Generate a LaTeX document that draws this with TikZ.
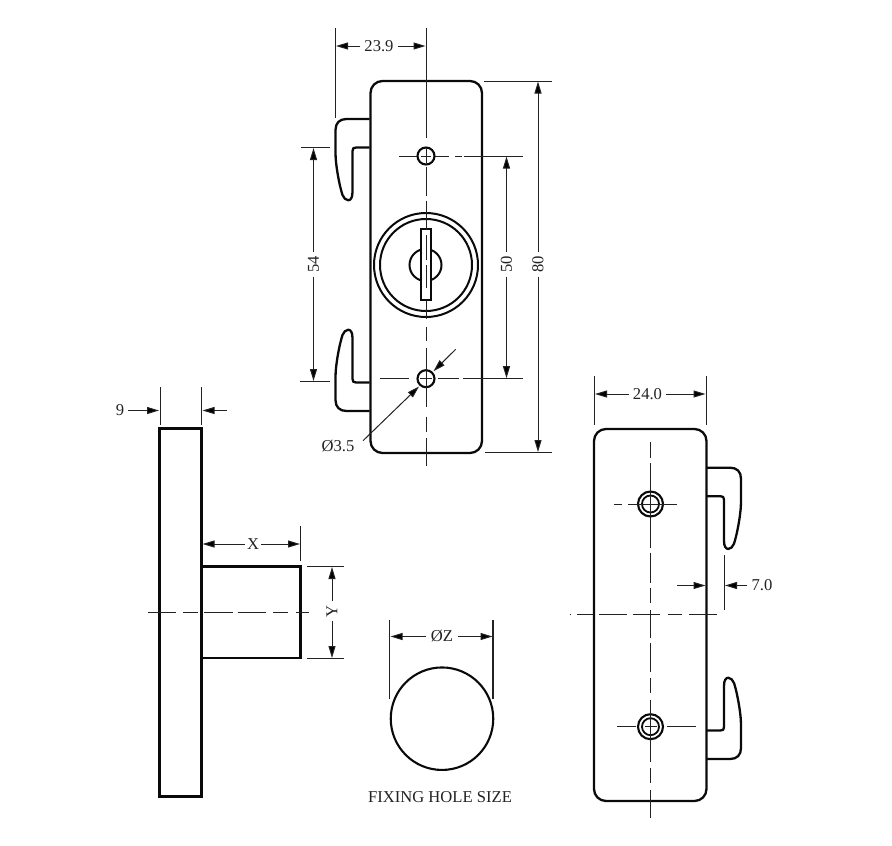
\documentclass[tikz,border=0pt]{standalone}
\usepackage{fontspec}
\setmainfont{Liberation Serif}
\usetikzlibrary{arrows.meta}
\definecolor{inkc}{HTML}{0A0A0A}
\definecolor{thinc}{HTML}{222222}
\newcommand{\hookshape}{\draw[outline] (0,0) -- (23,0) .. controls (30,0) and (34,4) .. (34,11) -- (34,34) .. controls (34,46) and (30,67) .. (27,76) .. controls (25,82) and (17,85) .. (17,73) -- (17,32) .. controls (17,29.5) and (16,28.5) .. (13.5,28.5) -- (0,28.5);}
\tikzset{
  outline/.style={line width=2.3pt,draw=inkc,line join=round},
  sideline/.style={line width=2.1pt,draw=inkc,line join=miter},
  centre/.style={line width=1pt,draw=thinc},
  extline/.style={line width=1pt,draw=thinc},
  dimline/.style={line width=1pt,draw=thinc,-{Triangle[length=12pt,width=7pt,fill=black]}},
  dimtext/.style={font=\fontsize{16.6}{18}\selectfont,text=thinc,inner sep=4pt},
}
\begin{document}
\begin{tikzpicture}[x=1pt,y=-1pt]
\useasboundingbox (0,0) rectangle (892,846);

% ---------- front view ----------
\draw[outline,rounded corners=12pt] (370.5,81) rectangle (482,453);
\begin{scope}[shift={(369.5,119)},xscale=-1]\hookshape\end{scope}
\begin{scope}[shift={(369.5,411)},xscale=-1,yscale=-1]\hookshape\end{scope}
\node[circle,draw=inkc,line width=2pt,minimum size=104pt,inner sep=0pt] (ringA) at (426,265) {};
\node[circle,draw=inkc,line width=2pt,minimum size=92pt,inner sep=0pt] (ringB) at (426,265) {};
\node[circle,draw=inkc,line width=2pt,minimum size=32pt,inner sep=0pt] (plug) at (425.5,265) {};
\node[rectangle,draw=inkc,fill=white,line width=2pt,minimum width=10pt,minimum height=71pt,inner sep=0pt] (keyslot) at (425.8,264.7) {};
\node[circle,draw=inkc,line width=2.1pt,minimum size=17pt,inner sep=0pt] (holeT) at (426,156) {};
\node[circle,draw=inkc,line width=2.1pt,minimum size=17pt,inner sep=0pt] (holeB) at (426,378.7) {};
% centre lines
\foreach \a/\b in {28/138,148/163,167/195.7,200.7/230,235/260,265/288,300/318.5,327/340.7,348/406.7,416.7/431.7,438/466}
  \draw[centre] (426,\a) -- (426,\b);
\foreach \a/\b in {399/417,421/431,435/449,455/461.5,463.5/522.7}
  \draw[centre] (\a,156) -- (\b,156);
\foreach \a/\b in {380/409,420/432,438/459,463/523}
  \draw[centre,line width=1.2pt] (\a,378.7) -- (\b,378.7);

% 23.9
\coordinate (e239a) at (335.5,28); \coordinate (e239b) at (335.5,118);
\draw[extline] (e239a) -- (e239b);
\node[dimtext] (t239) at (379,46) {23.9};
\coordinate (a239l) at (336,46); \coordinate (a239r) at (425.5,46);
\draw[dimline] (t239) -- (a239l);
\draw[dimline] (t239) -- (a239r);
% 80
\coordinate (e80a) at (484,81); \coordinate (e80b) at (552,81);
\coordinate (e80c) at (485,452.5); \coordinate (e80d) at (552,452.5);
\draw[extline] (e80a) -- (e80b);
\draw[extline] (e80c) -- (e80d);
\node[dimtext,rotate=90] (t80) at (538,264) {80};
\coordinate (a80t) at (538,81.5); \coordinate (a80b) at (538,452);
\draw[dimline] (t80) -- (a80t);
\draw[dimline] (t80) -- (a80b);
% 50
\node[dimtext,rotate=90] (t50) at (506.5,264) {50};
\coordinate (a50t) at (506.5,156.5); \coordinate (a50b) at (506.5,378.2);
\draw[dimline] (t50) -- (a50t);
\draw[dimline] (t50) -- (a50b);
% 54
\coordinate (e54a) at (301,147.5); \coordinate (e54b) at (330,147.5);
\coordinate (e54c) at (300,381.5); \coordinate (e54d) at (330,381.5);
\draw[extline] (e54a) -- (e54b);
\draw[extline] (e54c) -- (e54d);
\node[dimtext,rotate=90] (t54) at (313.5,264) {54};
\coordinate (a54t) at (313.5,148); \coordinate (a54b) at (313.5,381);
\draw[dimline] (t54) -- (a54t);
\draw[dimline] (t54) -- (a54b);
% dia 3.5
\node[dimtext] (t35) at (338,446) {Ø3.5};
\coordinate (l35a) at (363,440.7); \coordinate (l35b) at (419,386.5);
\coordinate (l35c) at (455.7,349.3); \coordinate (l35d) at (433.5,371.2);
\draw[dimline] (l35a) -- (l35b);
\draw[dimline] (l35c) -- (l35d);

% ---------- side view ----------
\draw[sideline] (159.5,428.5) rectangle (201.5,796.5);
\draw[sideline] (201.5,566.5) -- (300.5,566.5) -- (300.5,658) -- (201.5,658);
\foreach \a/\b in {147.5/176,183/198,204/233,237.5/265.5,273/288,296/309}
  \draw[centre] (\a,612.5) -- (\b,612.5);
% 9
\coordinate (e9a) at (160,387); \coordinate (e9b) at (160,425);
\coordinate (e9c) at (201.5,387); \coordinate (e9d) at (201.5,425);
\draw[extline] (e9a) -- (e9b);
\draw[extline] (e9c) -- (e9d);
\node[dimtext] (t9) at (120,410.5) {9};
\coordinate (a9l) at (159,410.5); \coordinate (a9r) at (202.5,410.5); \coordinate (s9r) at (227,410.5);
\draw[dimline] (t9) -- (a9l);
\draw[dimline] (s9r) -- (a9r);
% X
\coordinate (eXa) at (300.5,526); \coordinate (eXb) at (300.5,561);
\draw[extline] (eXa) -- (eXb);
\node[dimtext,inner sep=2pt] (tX) at (253,544) {X};
\coordinate (aXl) at (202.5,544); \coordinate (aXr) at (300,544);
\draw[dimline] (tX) -- (aXl);
\draw[dimline] (tX) -- (aXr);
% Y
\coordinate (eYa) at (307,566.5); \coordinate (eYb) at (344,566.5);
\coordinate (eYc) at (307,658.5); \coordinate (eYd) at (344,658.5);
\draw[extline] (eYa) -- (eYb);
\draw[extline] (eYc) -- (eYd);
\node[dimtext,rotate=90] (tY) at (332,611) {Y};
\coordinate (aYt) at (332,567); \coordinate (aYb) at (332,658);
\draw[dimline] (tY) -- (aYt);
\draw[dimline] (tY) -- (aYb);

% ---------- fixing hole ----------
\node[circle,draw=inkc,line width=2.1pt,minimum size=102.5pt,inner sep=0pt] (fixhole) at (442,718.7) {};
\coordinate (eZa) at (389.7,620); \coordinate (eZb) at (389.7,699);
\coordinate (eZc) at (493,620); \coordinate (eZd) at (493,699);
\draw[extline,line width=1.2pt] (eZa) -- (eZb);
\draw[extline,line width=1.2pt] (eZc) -- (eZd);
\node[dimtext,inner sep=5pt] (tZ) at (442,636.5) {ØZ};
\coordinate (aZl) at (390.5,636.5); \coordinate (aZr) at (492.5,636.5);
\draw[dimline] (tZ) -- (aZl);
\draw[dimline] (tZ) -- (aZr);
\node[dimtext] (caption) at (440,797.5) {FIXING HOLE SIZE};

% ---------- rear view ----------
\draw[outline,rounded corners=12pt] (594,429) rectangle (706.5,801);
\begin{scope}[shift={(707,467.7)}]\hookshape\end{scope}
\begin{scope}[shift={(707,759)},yscale=-1]\hookshape\end{scope}
\foreach \n/\y in {T/504,B/726.7}{
  \node[circle,draw=inkc,line width=2.1pt,minimum size=25pt,inner sep=0pt] (screw\n o) at (650.5,\y) {};
  \node[circle,draw=inkc,line width=1.8pt,minimum size=17pt,inner sep=0pt] (screw\n i) at (650.5,\y) {};
}
\foreach \a/\b in {441.7/458,463/548,552.7/583,588/603,610/638,642.7/671.7,678/692.7,700/761.7,768/783,790/818}
  \draw[centre] (650.5,\a) -- (650.5,\b);
\foreach \a/\b in {614/621.7,628/676.7}
  \draw[centre] (\a,504) -- (\b,504);
\foreach \a/\b in {617/636,645/657,667/696}
  \draw[centre,line width=1.2pt] (\a,726.7) -- (\b,726.7);
\foreach \a/\b in {570/571,577/593,599/627,632.7/660,668/681.7,689/717}
  \draw[centre] (\a,614.7) -- (\b,614.7);
% 24.0
\coordinate (e24a) at (594.5,376); \coordinate (e24b) at (594.5,425);
\coordinate (e24c) at (706,376); \coordinate (e24d) at (706,425);
\draw[extline] (e24a) -- (e24b);
\draw[extline] (e24c) -- (e24d);
\node[dimtext] (t24) at (647.5,394) {24.0};
\coordinate (a24l) at (595,394); \coordinate (a24r) at (705.5,394);
\draw[dimline] (t24) -- (a24l);
\draw[dimline] (t24) -- (a24r);
% 7.0
\coordinate (e7a) at (724.5,555); \coordinate (e7b) at (724.5,610);
\draw[extline] (e7a) -- (e7b);
\node[dimtext] (t7) at (762,585.5) {7.0};
\coordinate (s7l) at (677,585.5); \coordinate (a7l) at (705.5,585.5); \coordinate (a7r) at (725,585.5);
\draw[dimline] (s7l) -- (a7l);
\draw[dimline] (t7) -- (a7r);
\end{tikzpicture}
\end{document}
